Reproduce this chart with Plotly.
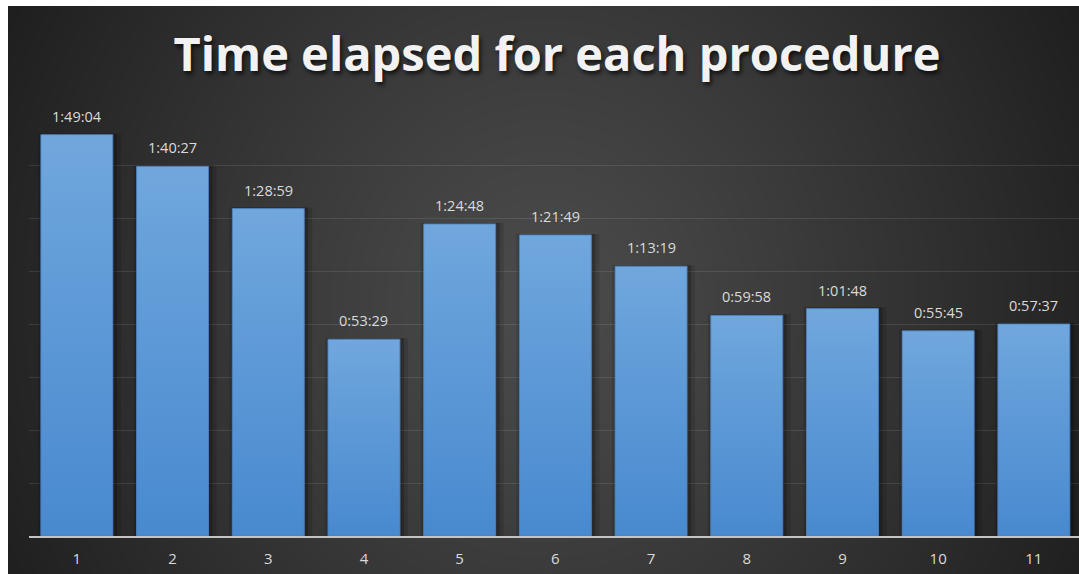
import base64
import struct
import zlib

import numpy as np
import plotly.graph_objects as go

# ---- data -------------------------------------------------------------
procedures = ["1", "2", "3", "4", "5", "6", "7", "8", "9", "10", "11"]
elapsed = ["1:49:04", "1:40:27", "1:28:59", "0:53:29", "1:24:48", "1:21:49",
           "1:13:19", "0:59:58", "1:01:48", "0:55:45", "0:57:37"]

# axis in seconds; gridlines every 14:24 (0.01 day)
GRID_STEP = 864
AXIS_MAX = 8 * GRID_STEP


def to_seconds(s):
    h, m, sec = (int(p) for p in s.split(":"))
    return h * 3600 + m * 60 + sec


seconds = [to_seconds(s) for s in elapsed]

# ---- figure geometry --------------------------------------------------
W, H = 1079, 574
ML, MR, MT, MB = 29, 0, 112, 38
PW, PH = W - ML - MR, H - MT - MB
SLOT = 95.7                      # pixels per category
X0 = 0.5
X1 = X0 + PW / SLOT
HALF = 36 / SLOT                 # half bar width in axis units
PX_X = 1 / SLOT
PX_Y = AXIS_MAX / PH


# ---- dark radial background as an inline PNG --------------------------
def png_uri(rgb):
    h, w, _ = rgb.shape
    raw = b"".join(b"\x00" + rgb[y].tobytes() for y in range(h))

    def chunk(tag, data):
        c = struct.pack(">I", len(data)) + tag + data
        return c + struct.pack(">I", zlib.crc32(tag + data) & 0xFFFFFFFF)

    png = (b"\x89PNG\r\n\x1a\n"
           + chunk(b"IHDR", struct.pack(">IIBBBBB", w, h, 8, 2, 0, 0, 0))
           + chunk(b"IDAT", zlib.compress(raw, 9))
           + chunk(b"IEND", b""))
    return "data:image/png;base64," + base64.b64encode(png).decode()


bw, bh = 1071 // 2, 568 // 2
yy, xx = np.mgrid[0:bh, 0:bw].astype(float)
dx = (xx - bw * 0.5) / (bw * 0.5)
dy = (yy - bh * 0.52) / (bh * 0.5)
r = np.sqrt(dx ** 2 + (0.5 * dy) ** 2) / np.sqrt(1.25)
v = 0x4B - (0x4B - 0x1F) * np.clip(r, 0, 1) ** 1.15
bg = np.repeat(v[:, :, None], 3, axis=2).round().astype(np.uint8)
bg_uri = png_uri(bg)

fig = go.Figure()

# soft drop shadows behind the bars
for i, s in enumerate(seconds, start=1):
    for grow_l, grow_r, alpha in ((3, 8, 0.12), (1, 4, 0.22)):
        xl = i - HALF - grow_l * PX_X
        xr = i + HALF + grow_r * PX_X
        yt = s + 1 * PX_Y
        fig.add_trace(go.Scatter(
            x=[xl, xr, xr, xl, xl], y=[0, 0, yt, yt, 0],
            mode="lines", line=dict(width=0), fill="toself",
            fillcolor=f"rgba(0,0,0,{alpha})", hoverinfo="skip",
            showlegend=False))

# bars with a light-to-deeper blue vertical gradient
for i, (s, lab) in enumerate(zip(seconds, elapsed), start=1):
    xl, xr = i - HALF, i + HALF
    fig.add_trace(go.Scatter(
        x=[xl, xr, xr, xl, xl], y=[0, 0, s, s, 0],
        mode="lines", line=dict(width=1, color="rgba(78,128,188,0.9)"),
        fill="toself",
        fillgradient=dict(type="vertical",
                          colorscale=[[0, "#4889cf"], [1, "#70a7dd"]]),
        name=procedures[i - 1], text=lab, hoverinfo="text+name",
        showlegend=False))
    fig.add_annotation(
        x=i, y=s, text=lab, showarrow=False, yanchor="bottom", yshift=7,
        font=dict(family="Open Sans", size=14.5, color="#dadada"))

fig.update_layout(
    width=W, height=H,
    margin=dict(l=ML, r=MR, t=MT, b=MB, autoexpand=False),
    paper_bgcolor="white",
    plot_bgcolor="rgba(0,0,0,0)",
    title=dict(
        text="Time elapsed for each procedure",
        x=557 / W, y=1 - 55 / H, xref="container", yref="container",
        xanchor="center", yanchor="middle",
        font=dict(family="Open Sans", size=47, weight="bold", color="#f2f2f2",
                  shadow="2px 3px 4px rgba(0,0,0,0.7)")),
    images=[dict(
        source=bg_uri, xref="paper", yref="paper",
        x=(8 - ML) / PW, y=(H - MB - 6) / PH,
        sizex=(W - 8) / PW, sizey=(H - 6) / PH,
        xanchor="left", yanchor="top", sizing="stretch", layer="below")],
    xaxis=dict(
        range=[X0, X1], tickvals=list(range(1, len(procedures) + 1)),
        ticktext=procedures, showgrid=False, zeroline=False,
        showline=True, linecolor="#c4c4c4", linewidth=2, ticks="",
        ticklabelstandoff=8,
        tickfont=dict(family="Open Sans", size=15, color="#dadada"),
        fixedrange=True),
    yaxis=dict(
        range=[0, AXIS_MAX + 1], tick0=0, dtick=GRID_STEP,
        showgrid=True, gridcolor="rgba(255,255,255,0.1)", gridwidth=1,
        showticklabels=False, zeroline=False, showline=False,
        fixedrange=True),
    showlegend=False,
)

fig.write_html("out.html")
